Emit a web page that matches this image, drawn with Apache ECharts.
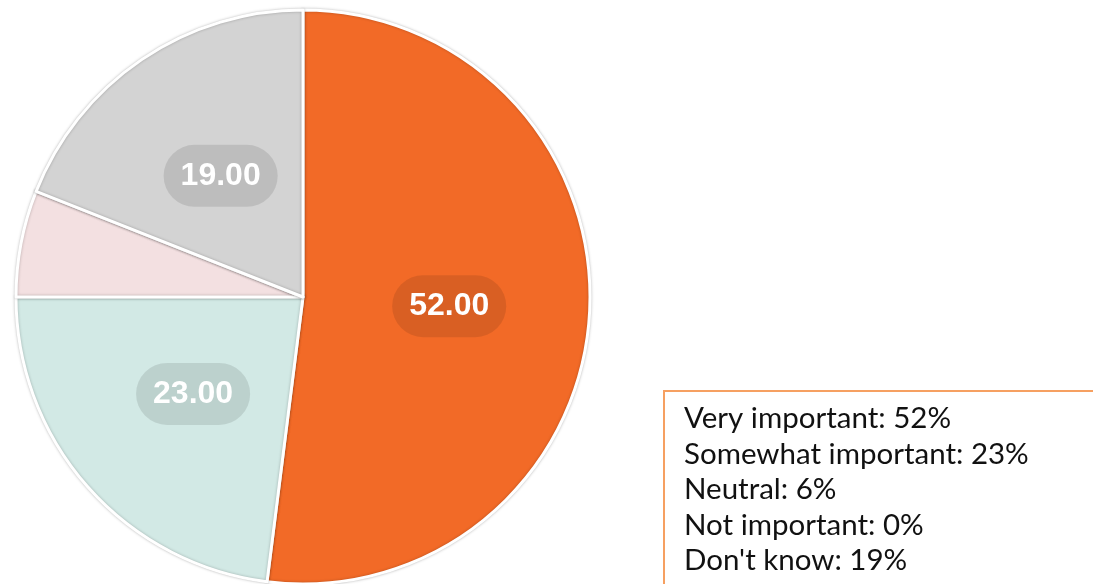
<!DOCTYPE html>
<html>
<head>
<meta charset="utf-8">
<script src="https://cdn.jsdelivr.net/npm/echarts@6/dist/echarts.min.js"></script>
<style>
  html, body { margin: 0; padding: 0; background: #ffffff; }
  #chart { width: 1093px; height: 584px; }
</style>
</head>
<body>
<div id="chart"></div>
<script>
// Survey answers and their shares (percent)
const categories = ['Very important', 'Somewhat important', 'Neutral', 'Not important', "Don't know"];
const values = [52, 23, 6, 0, 19];
const sliceColors = ['#F26A27', '#D2E9E5', '#F3E0E1', '#E8E8E8', '#D3D3D3'];
// Slices whose value is printed on the pie
const labelled = [true, true, false, false, true];

const chart = echarts.init(document.getElementById('chart'), null, { renderer: 'canvas' });

const pieData = categories.map((name, i) => ({
  name: name,
  value: values[i],
  itemStyle: { color: sliceColors[i] },
  label: { show: labelled[i] }
}));

const legendLines = categories.map((name, i) => name + ': ' + values[i] + '%').join('\n');

chart.setOption({
  animation: false,
  series: [{
    type: 'pie',
    center: [303, 297],
    radius: 287,
    startAngle: 90,
    clockwise: true,
    avoidLabelOverlap: false,
    stillShowZeroSum: true,
    itemStyle: {
      borderColor: '#ffffff',
      borderWidth: 3,
      shadowBlur: 3,
      shadowColor: 'rgba(0,0,0,0.25)'
    },
    label: {
      position: 'inside',
      formatter: p => p.value.toFixed(2),
      color: '#ffffff',
      fontFamily: 'Liberation Sans, Arial, Helvetica, sans-serif',
      fontWeight: 'bold',
      fontSize: 32,
      lineHeight: 32,
      backgroundColor: 'rgba(0,0,0,0.1)',
      borderRadius: 31,
      padding: [15, 17]
    },
    labelLine: { show: false },
    emphasis: { disabled: true },
    data: pieData
  }],
  graphic: [{
    type: 'group',
    left: 663,
    top: 390,
    children: [{
      type: 'rect',
      shape: { x: 0, y: 0, width: 460, height: 230 },
      style: { fill: '#ffffff', stroke: '#F6A061', lineWidth: 2 }
    }, {
      type: 'text',
      x: 20,
      y: 10,
      style: {
        text: legendLines,
        font: '29.5px Lato, "Noto Sans", sans-serif',
        lineHeight: 35.5,
        fill: '#111111'
      }
    }]
  }]
});
</script>
</body>
</html>
